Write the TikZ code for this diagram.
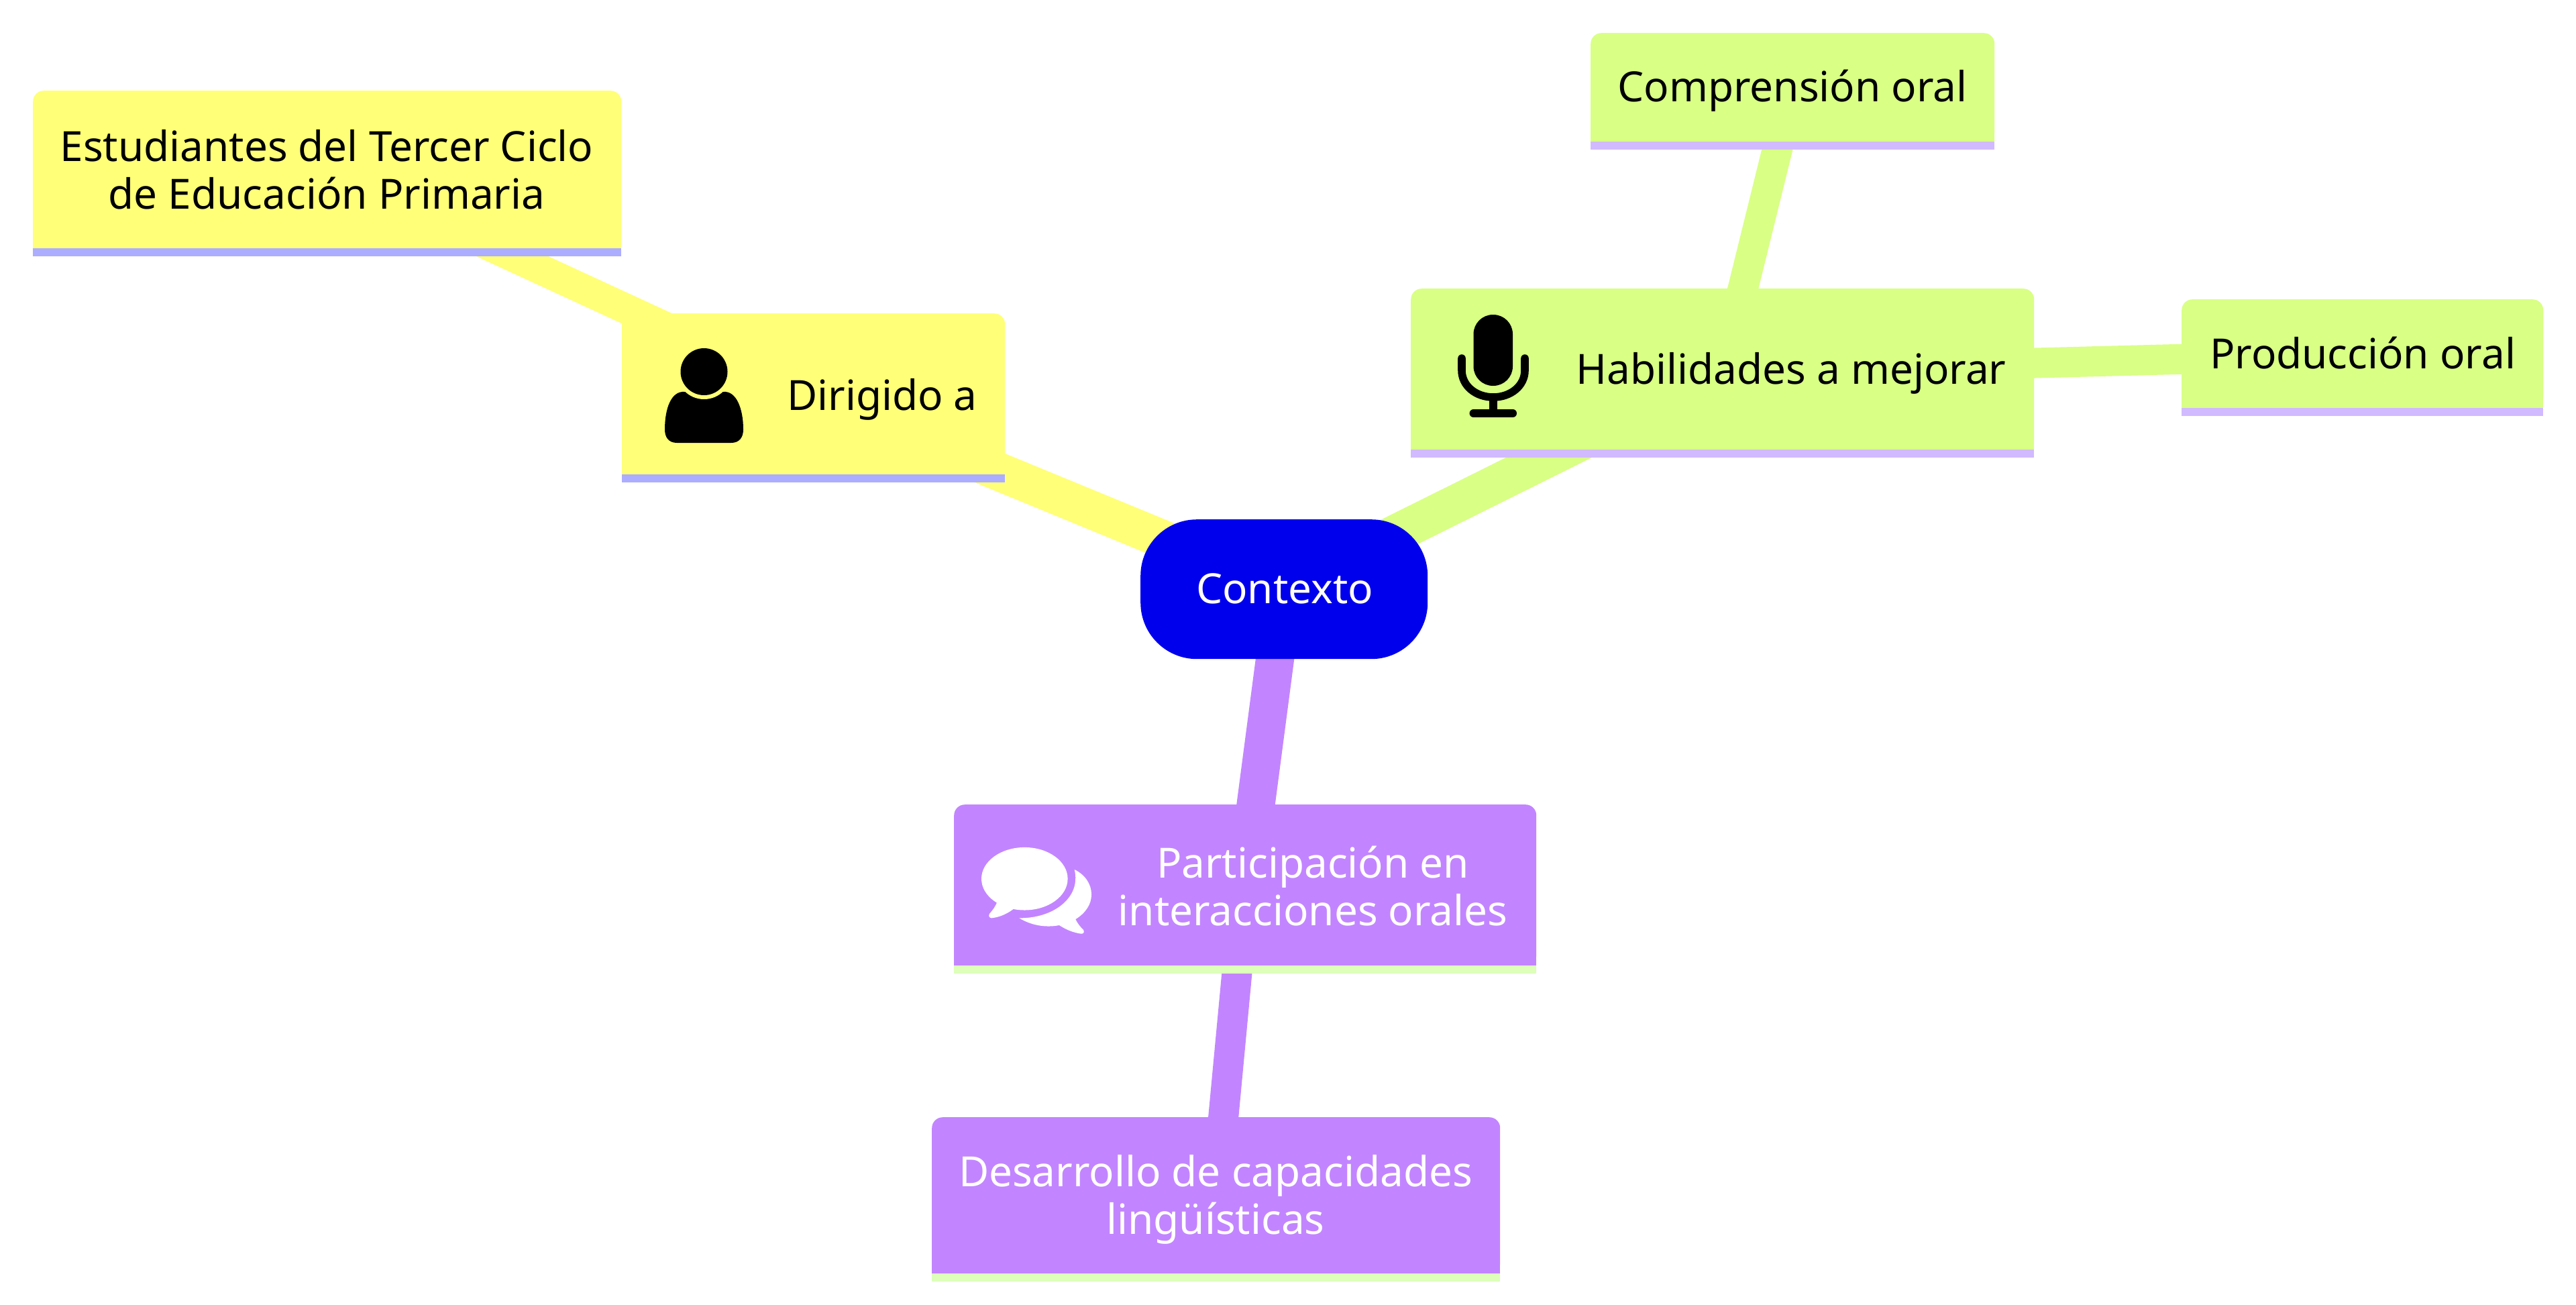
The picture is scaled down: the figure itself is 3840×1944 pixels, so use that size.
\documentclass[tikz,border=0pt]{standalone}
\usepackage{fontspec}
\setmainfont{Noto Sans}
\usetikzlibrary{backgrounds}
\definecolor{rootblue}{HTML}{0000EC}
\definecolor{yel}{HTML}{FFFF78}
\definecolor{gre}{HTML}{D9FF85}
\definecolor{pur}{HTML}{C285FF}
\definecolor{bandyel}{HTML}{ADADFF}
\definecolor{bandgre}{HTML}{D1BAFF}
\definecolor{bandpur}{HTML}{DDFFBA}
\tikzset{
  mmbox/.style={rounded corners=16pt,inner sep=0pt,anchor=north west},
  lab/.style={font=\fontsize{62}{71}\selectfont,align=center,inner sep=0pt,anchor=center},
  edgeA/.style={line width=57pt},
  edgeB/.style={line width=45pt},
}
% name, x1, y1, x2, y2 (band included), fill, band
\newcommand{\mmnode}[7]{%
  \node[mmbox,fill=#6,minimum width={#4-#2},minimum height={#5-#3-12}] (#1) at (#2,#3) {};
  \fill[#6] (#1.south west) rectangle ([yshift=22pt]#1.south east);
  \fill[#7] (#1.south west) rectangle ([yshift=-12pt]#1.south east);
}
\begin{document}
\begin{tikzpicture}[x=1pt,y=-1pt]
\useasboundingbox (0,0) rectangle (3840,1944);
\node[rounded corners=84pt,fill=rootblue,inner sep=0pt,anchor=north west,minimum width=428,minimum height=208] (root) at (1700,774) {};
\mmnode{dir}{927}{467}{1498}{719}{yel}{bandyel}
\mmnode{est}{49}{135}{926}{382}{yel}{bandyel}
\mmnode{hab}{2103}{430}{3032}{682}{gre}{bandgre}
\mmnode{com}{2371}{49}{2973}{223}{gre}{bandgre}
\mmnode{pro}{3252}{446}{3791}{620}{gre}{bandgre}
\mmnode{par}{1422}{1199}{2290}{1451}{pur}{bandpur}
\mmnode{des}{1389}{1665}{2236}{1910}{pur}{bandpur}
\begin{scope}[on background layer]
  \draw[edgeA,yel] (root.center) -- ([yshift=-2pt]dir.center);
  \draw[edgeB,yel] ([yshift=-2pt]dir.center) -- ([yshift=-2pt]est.center);
  \draw[edgeA,gre] (root.center) -- ([yshift=-3pt]hab.center);
  \draw[edgeB,gre] ([yshift=-3pt]hab.center) -- (com.center);
  \draw[edgeB,gre] ([yshift=-3pt]hab.center) -- ([yshift=-1pt]pro.center);
  \draw[edgeA,pur] (root.center) -- (par.center);
  \draw[edgeB,pur] (par.center) -- (des.center);
\end{scope}
\node[lab,text=white] (troot) at (1915,877) {Contexto};
\node[lab] (test) at (487,253) {Estudiantes del Tercer Ciclo\\de Educación Primaria};
\node[lab] (tdir) at (1315,595) {Dirigido a};
\node[lab] (thab) at (2670,556) {Habilidades a mejorar};
\node[lab] (tcom) at (2672,135) {Comprensión oral};
\node[lab] (tpro) at (3522,526) {Producción oral};
\node[lab,text=white] (tpar) at (1957,1321) {Participación en\\interacciones orales};
\node[lab,text=white] (tdes) at (1812,1788) {Desarrollo de capacidades\\lingüísticas};
% person icon
\fill[black] (1021,584) .. controls (1000,582) and (991,610) .. (991,640) .. controls (991,652) and (997,660) .. (1009,660) -- (1090,660) .. controls (1102,660) and (1108,652) .. (1108,640) .. controls (1108,610) and (1098,582) .. (1078,584) -- cycle;
\fill[yel] (1049.5,554) circle[radius=41];
\fill[black] (1049.5,554) circle[radius=35];
% microphone icon
\fill[black,rounded corners=29pt] (2196.5,469) rectangle (2255,575);
\draw[black,line width=11.6pt,line cap=round] (2179,534) -- (2179,552) .. controls (2179,575) and (2200,592) .. (2226,592) .. controls (2252,592) and (2273,575) .. (2273,552) -- (2273,534);
\fill[black] (2220,592) rectangle (2232,612);
\draw[black,line width=12pt,line cap=round] (2196.5,616) -- (2255,616);
% speech bubbles icon
\fill[white] (1527.3,1309.7) ellipse[x radius=64.3,y radius=46.8];
\fill[white] (1487,1342) .. controls (1485,1350) and (1480,1356) .. (1475,1362) .. controls (1473,1365) and (1475,1368.5) .. (1478.3,1368.3) .. controls (1490,1367) and (1502,1362) .. (1513,1353) -- cycle;
\fill[white] (1601.7,1296) .. controls (1618,1304) and (1627,1318) .. (1627,1333.3) .. controls (1627,1348) and (1618,1361) .. (1603.3,1370) .. controls (1606,1376) and (1610,1381) .. (1615,1386) .. controls (1617,1389) and (1615,1392) .. (1611.7,1391.7) .. controls (1600,1390) and (1590,1386) .. (1579,1379) .. controls (1558,1383) and (1537,1379) .. (1519.3,1368.3) .. controls (1570,1369) and (1612,1338) .. (1601.7,1296) -- cycle;
\end{tikzpicture}
\end{document}
